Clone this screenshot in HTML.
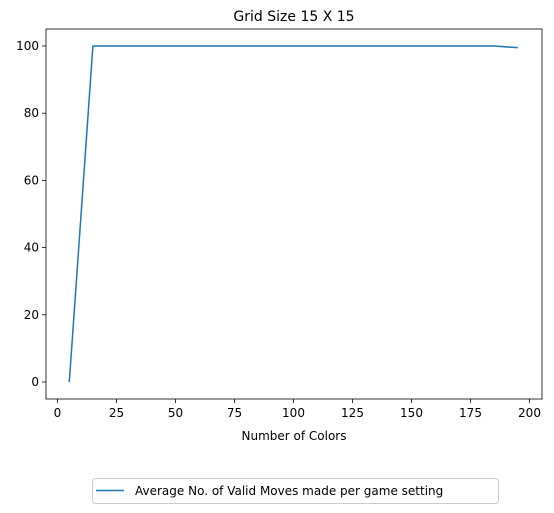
<!DOCTYPE html>
<html><head><meta charset="utf-8"><style>
body{margin:0;background:#fff;}
svg{display:block;font-family:"DejaVu Sans","Liberation Sans",sans-serif;}
</style></head><body>
<svg id="chart" width="554" height="513" xmlns="http://www.w3.org/2000/svg">
<text x="294" y="21" font-size="14" text-anchor="middle">Grid Size 15 X 15</text>
<g id="axes"></g>
<text x="294" y="440" font-size="12" text-anchor="middle">Number of Colors</text>
<g>
<rect x="92.5" y="478.5" width="406" height="25" rx="3" fill="#fff" stroke="#ccc"/>
<line x1="96" y1="490.5" x2="124" y2="490.5" stroke="#1f77b4" stroke-width="1.5"/>
<text x="135" y="495" font-size="12">Average No. of Valid Moves made per game setting</text>
</g>
</svg>
<script>
const xValues=[5,15,25,35,45,55,65,75,85,95,105,115,125,135,145,155,165,175,185,195];
const yValues=[0,100,100,100,100,100,100,100,100,100,100,100,100,100,100,100,100,100,100,99.5];
const xTicks=[0,25,50,75,100,125,150,175,200];
const yTicks=[0,20,40,60,80,100];
const L=46,R=542,T=29,B=399;
const sx=v=>57.5+v*(472/200);
const sy=v=>382-v*3.36;
const NS="http://www.w3.org/2000/svg";
const g=document.getElementById('axes');
function mk(t,a){const e=document.createElementNS(NS,t);for(const k in a)e.setAttribute(k,a[k]);g.appendChild(e);return e;}
xTicks.forEach(v=>{
const l=mk('line',{x1:sx(v),x2:sx(v),y1:B,y2:B+4,stroke:'#000','stroke-width':0.8});


const t=mk('text',{x:sx(v),y:B+18,'font-size':12,'text-anchor':'middle'});t.textContent=v;


});
yTicks.forEach(v=>{
const l=mk('line',{x1:L-4,x2:L,y1:sy(v),y2:sy(v),stroke:'#000','stroke-width':0.8});


const t=mk('text',{x:L-7,y:sy(v)+4,'font-size':12,'text-anchor':'end'});t.textContent=v;


});
const p=mk('polyline',{points:xValues.map((x,i)=>sx(x)+','+sy(yValues[i])).join(' '),fill:'none',stroke:'#1f77b4','stroke-width':1.5});


const f=mk('rect',{x:L,y:T,width:R-L,height:B-T,fill:'none',stroke:'#000','stroke-width':0.8});


</script>
</body></html>
